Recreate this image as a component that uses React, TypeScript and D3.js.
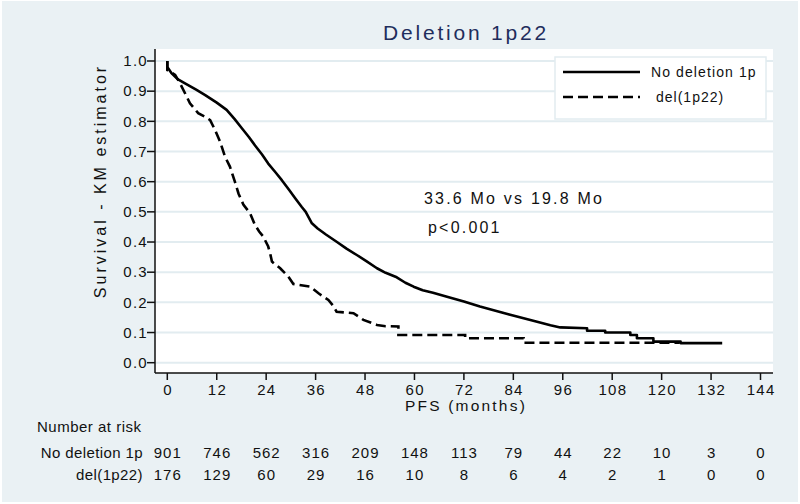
import React from 'react';
import * as d3 from 'd3';

const W = 800;
const H = 504;

const xTicks = [0, 12, 24, 36, 48, 60, 72, 84, 96, 108, 120, 132, 144];
const yTicks = [0, 0.1, 0.2, 0.3, 0.4, 0.5, 0.6, 0.7, 0.8, 0.9, 1.0];

const seriesNames = ['No deletion 1p', 'del(1p22)'];

// vertices of the drawn KM curves (time in months, survival)
const noDelTime = [0, 0, 1, 2.5, 4.3, 7, 9.2, 12, 14.4, 16.3, 18.1, 19.8, 21.3, 23, 24.5, 26.2, 27.8, 29.5, 31, 32.6, 33.6, 35.1, 36.5, 38.5, 41.1, 43.5, 46, 48.5, 50.9, 53, 55.7, 57.8, 59.8, 62, 64.5, 67.9, 72, 75.9, 79, 83, 86.5, 90, 93, 95.4, 101.9, 101.9, 106.3, 106.3, 112.4, 112.4, 114, 114, 118, 118, 124.6, 124.6, 134.7];
const noDelSurv = [1.0, 0.98, 0.96, 0.94, 0.926, 0.905, 0.887, 0.862, 0.838, 0.808, 0.777, 0.748, 0.72, 0.69, 0.66, 0.632, 0.605, 0.574, 0.546, 0.517, 0.5, 0.462, 0.445, 0.425, 0.401, 0.378, 0.357, 0.335, 0.313, 0.298, 0.283, 0.265, 0.252, 0.24, 0.232, 0.219, 0.203, 0.186, 0.175, 0.16, 0.147, 0.135, 0.124, 0.117, 0.114, 0.106, 0.106, 0.1, 0.1, 0.092, 0.092, 0.081, 0.081, 0.07, 0.07, 0.065, 0.065];

const delTime = [0, 0, 1.9, 3.1, 4.3, 5.5, 7.5, 9.2, 10.4, 11.6, 12.8, 14, 15.2, 16.4, 17.3, 18.5, 20.1, 21.3, 22.3, 23.3, 24.5, 25, 25.4, 27.4, 29.4, 30.6, 34.7, 36.7, 39.1, 40.2, 41.1, 45.2, 47.6, 50.9, 53, 56.1, 56.1, 72.3, 72.3, 86.5, 86.5, 124.4];
const delSurv = [1.0, 0.97, 0.954, 0.926, 0.893, 0.86, 0.827, 0.815, 0.804, 0.771, 0.733, 0.683, 0.65, 0.6, 0.56, 0.523, 0.495, 0.456, 0.435, 0.418, 0.385, 0.36, 0.335, 0.313, 0.285, 0.261, 0.252, 0.23, 0.208, 0.19, 0.169, 0.164, 0.142, 0.125, 0.121, 0.12, 0.092, 0.092, 0.081, 0.081, 0.066, 0.066];

const riskNoDel = [901, 746, 562, 316, 209, 148, 113, 79, 44, 22, 10, 3, 0];
const riskDel = [176, 129, 60, 29, 16, 10, 8, 6, 4, 2, 1, 0, 0];

const title = 'Deletion 1p22';
const yLabel = 'Survival - KM estimator';
const xLabel = 'PFS (months)';
const annot1 = '33.6 Mo vs 19.8 Mo';
const annot2 = 'p<0.001';
const riskTitle = 'Number at risk';

const FONT = "'Liberation Sans', Arial, sans-serif";

export default function App() {
  const plotL = 155, plotR = 773, plotT = 49, plotB = 373;
  const x = d3.scaleLinear().domain([0, 144]).range([167.3, 760.5]);
  const y = d3.scaleLinear().domain([0, 1]).range([362.7, 61]);

  const line = d3
    .line<[number, number]>()
    .x((d) => x(d[0]))
    .y((d) => y(d[1]))
    .curve(d3.curveLinear);

  const solidPts = noDelTime.map((t, i) => [t, noDelSurv[i]] as [number, number]);
  const dashPts = delTime.map((t, i) => [t, delSurv[i]] as [number, number]);

  return (
    <svg width={W} height={H} style={{ position: 'absolute', left: 0, top: 0 }} fontFamily={FONT}>
      <rect x={0} y={0} width={W} height={H} fill="#ffffff" />
      <rect x={2} y={1} width={796} height={501} fill="#eaf1f4" />
      <rect x={plotL} y={plotT} width={plotR - plotL} height={plotB - plotT} fill="#ffffff" />
      {yTicks.map((v) => (
        <line key={'g' + v} x1={plotL} x2={plotR} y1={y(v)} y2={y(v)} stroke="#e2ecf0" strokeWidth={2} />
      ))}
      {/* title */}
      <text x={466} y={40} textAnchor="middle" fontSize={21} fill="#1f2d5c" letterSpacing={2.8}>{title}</text>

      {/* axes */}
      <line x1={plotL} x2={plotL} y1={plotT} y2={plotB} stroke="#111" strokeWidth={1.5} />
      <line x1={plotL} x2={plotR} y1={plotB} y2={plotB} stroke="#111" strokeWidth={1.5} />
      {yTicks.map((v) => (
        <g key={'yt' + v}>
          <line x1={147} x2={plotL} y1={y(v)} y2={y(v)} stroke="#111" strokeWidth={1.5} />
          <text x={148} y={y(v)} dy="0.35em" textAnchor="end" fontSize={15} fill="#111" letterSpacing={1.3}>{v.toFixed(1)}</text>
        </g>
      ))}
      {xTicks.map((v) => (
        <g key={'xt' + v}>
          <line x1={x(v)} x2={x(v)} y1={plotB} y2={380} stroke="#111" strokeWidth={1.5} />
          <text x={x(v) + 0.7} y={395} textAnchor="middle" fontSize={15} fill="#111" letterSpacing={1.3}>{v}</text>
        </g>
      ))}
      <text x={466} y={411} textAnchor="middle" fontSize={15.5} fill="#111" letterSpacing={2.2}>{xLabel}</text>
      <text transform={`translate(106,181) rotate(-90)`} textAnchor="middle" fontSize={16} fill="#111" letterSpacing={3}>{yLabel}</text>

      {/* curves */}
      <path d={line(solidPts) || ''} fill="none" stroke="#000" strokeWidth={2.6} strokeLinejoin="round" />
      <path d={line(dashPts) || ''} fill="none" stroke="#000" strokeWidth={2.6} strokeDasharray="10,5" />

      {/* annotations */}
      <text x={424} y={204} fontSize={16} fill="#111" letterSpacing={2.2}>{annot1}</text>
      <text x={428} y={233} fontSize={16} fill="#111" letterSpacing={2.2}>{annot2}</text>

      {/* legend */}
      <rect x={555} y={57} width={211} height={62} fill="#ffffff" stroke="#e2ecf0" strokeWidth={1.5} />
      <line x1={563} x2={640} y1={72} y2={72} stroke="#000" strokeWidth={2.6} />
      <line x1={563} x2={640} y1={97} y2={97} stroke="#000" strokeWidth={2.6} strokeDasharray="10,5" />
      <text x={651} y={72} dy="0.35em" fontSize={14} fill="#111" letterSpacing={1.1}>{seriesNames[0]}</text>
      <text x={656} y={97} dy="0.35em" fontSize={14} fill="#111" letterSpacing={1}>{seriesNames[1]}</text>

      {/* risk table */}
      <text x={37} y={427} dy="0.35em" fontSize={15} fill="#111" letterSpacing={0.5}>{riskTitle}</text>
      <text x={143} y={453} dy="0.35em" textAnchor="end" fontSize={15} fill="#111" letterSpacing={0.4}>{seriesNames[0]}</text>
      <text x={143} y={475} dy="0.35em" textAnchor="end" fontSize={15} fill="#111" letterSpacing={0.4}>{seriesNames[1]}</text>
      {xTicks.map((v, i) => (
        <g key={'r' + v}>
          <text x={x(v) + 0.5} y={453} dy="0.35em" textAnchor="middle" fontSize={15} fill="#111" letterSpacing={1}>{riskNoDel[i]}</text>
          <text x={x(v) + 0.5} y={475} dy="0.35em" textAnchor="middle" fontSize={15} fill="#111" letterSpacing={1}>{riskDel[i]}</text>
        </g>
      ))}
    </svg>
  );
}
